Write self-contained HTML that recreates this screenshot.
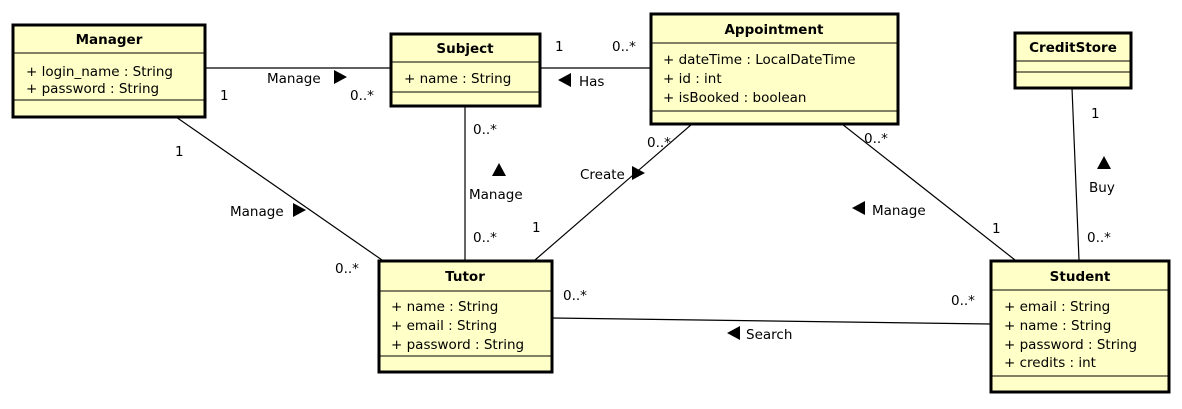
<!DOCTYPE html>
<html><head><meta charset="utf-8"><style>
body{margin:0;background:#fff}
svg text{font-family:"DejaVu Sans","Liberation Sans",sans-serif;font-size:13.5px;fill:#000}
.b{font-weight:bold}
</style></head><body>
<svg width="1182" height="404" viewBox="0 0 1182 404" xmlns="http://www.w3.org/2000/svg">
<g stroke="#000" stroke-width="1.2" fill="none">
<line x1="205" y1="68" x2="390" y2="68"/>
<line x1="176" y1="117" x2="382" y2="260"/>
<line x1="465" y1="107" x2="465" y2="260"/>
<line x1="540" y1="68" x2="650" y2="68"/>
<line x1="692" y1="124" x2="535" y2="260"/>
<line x1="842" y1="124" x2="1015" y2="260"/>
<line x1="1072" y1="88" x2="1079" y2="260"/>
<line x1="552" y1="318" x2="990" y2="324"/>
</g>
<g fill="#ffffc8" stroke="#000">
<rect x="13" y="25" width="192" height="92" stroke-width="3"/>
<rect x="391" y="34" width="149" height="72" stroke-width="3"/>
<rect x="651" y="14" width="247" height="110" stroke-width="3"/>
<rect x="1015" y="33" width="116" height="55" stroke-width="3"/>
<rect x="379" y="261" width="173" height="111" stroke-width="3"/>
<rect x="991" y="261" width="178" height="131" stroke-width="3"/>
</g>
<g stroke="#000" stroke-width="1">
<line x1="13" y1="53" x2="205" y2="53"/><line x1="13" y1="100" x2="205" y2="100"/>
<line x1="391" y1="62" x2="540" y2="62"/><line x1="391" y1="92" x2="540" y2="92"/>
<line x1="651" y1="43" x2="898" y2="43"/><line x1="651" y1="111" x2="898" y2="111"/>
<line x1="1015" y1="61" x2="1131" y2="61"/><line x1="1015" y1="72" x2="1131" y2="72"/>
<line x1="379" y1="291" x2="552" y2="291"/><line x1="379" y1="356" x2="552" y2="356"/>
<line x1="991" y1="290" x2="1169" y2="290"/><line x1="991" y1="376" x2="1169" y2="376"/>
</g>
<text class="b" x="109" y="44" text-anchor="middle">Manager</text>
<text x="26" y="76">+ login_name : String</text>
<text x="26" y="93">+ password : String</text>
<text class="b" x="465" y="53" text-anchor="middle">Subject</text>
<text x="404" y="83">+ name : String</text>
<text class="b" x="774" y="34" text-anchor="middle">Appointment</text>
<text x="663" y="64">+ dateTime : LocalDateTime</text>
<text x="663" y="83">+ id : int</text>
<text x="663" y="102">+ isBooked : boolean</text>
<text class="b" x="1073" y="52" text-anchor="middle">CreditStore</text>
<text class="b" x="465" y="281" text-anchor="middle">Tutor</text>
<text x="391" y="311">+ name : String</text>
<text x="391" y="330">+ email : String</text>
<text x="391" y="349">+ password : String</text>
<text class="b" x="1080" y="281" text-anchor="middle">Student</text>
<text x="1004" y="311">+ email : String</text>
<text x="1004" y="330">+ name : String</text>
<text x="1004" y="349">+ password : String</text>
<text x="1004" y="367">+ credits : int</text>
<g>
<text x="220" y="100">1</text><text x="350" y="100">0..*</text>
<text x="267" y="83">Manage</text><polygon points="334,70 334,84 347,77" fill="#000"/>
<text x="555" y="51">1</text><text x="612" y="51">0..*</text>
<polygon points="558,80 571,73 571,87" fill="#000"/><text x="579" y="86">Has</text>
<text x="175" y="156">1</text><text x="335" y="273">0..*</text>
<text x="230" y="216">Manage</text><polygon points="293,203 293,217 306,210" fill="#000"/>
<text x="473" y="134">0..*</text><polygon points="499,163 492,176 506,176" fill="#000"/>
<text x="469" y="199">Manage</text><text x="473" y="242">0..*</text>
<text x="647" y="147">0..*</text><text x="532" y="232">1</text>
<text x="580" y="179">Create</text><polygon points="632,166 632,180 645,173" fill="#000"/>
<text x="864" y="143">0..*</text><text x="992" y="233">1</text>
<polygon points="852,208 865,201 865,215" fill="#000"/><text x="872" y="215">Manage</text>
<text x="1091" y="118">1</text><polygon points="1104,156 1097,169 1111,169" fill="#000"/>
<text x="1089" y="192">Buy</text><text x="1087" y="242">0..*</text>
<text x="563" y="300">0..*</text><text x="951" y="305">0..*</text>
<polygon points="727,333 740,326 740,340" fill="#000"/><text x="746" y="339">Search</text>
</g>
</svg>
</body></html>
